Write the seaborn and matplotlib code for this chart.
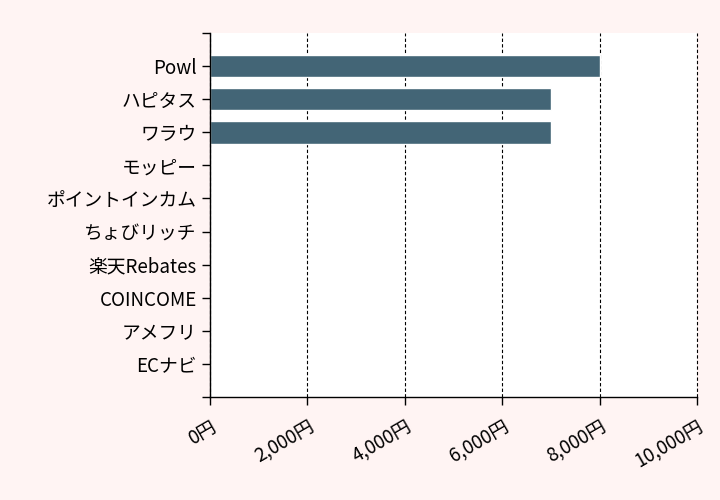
import matplotlib
matplotlib.use("Agg")
import matplotlib.pyplot as plt
import seaborn as sns
import pandas as pd
from matplotlib.ticker import FuncFormatter

sites = ["Powl", "ハピタス", "ワラウ", "モッピー", "ポイントインカム",
         "ちょびリッチ", "楽天Rebates", "COINCOME", "アメフリ", "ECナビ"]
amounts = [8000, 7000, 7000, 0, 0, 0, 0, 0, 0, 0]
x_ticks = [0, 2000, 4000, 6000, 8000, 10000]

sns.set_style("ticks")
plt.rcParams["font.family"] = ["Noto Sans CJK JP", "DejaVu Sans"]

df = pd.DataFrame({"site": sites, "amount": amounts})

fig = plt.figure(figsize=(7.2, 5), dpi=100, facecolor="#fff4f3")
ax = fig.add_axes([210 / 720, 103 / 500, 487 / 720, 364 / 500])
ax.set_facecolor("white")

sns.barplot(data=df, x="amount", y="site", orient="h", color="#436576",
            saturation=1, width=0.68, ax=ax)

ax.set_xlim(0, 10000)
ax.set_ylim(10, -1)
ax.set_xticks(x_ticks)
ax.xaxis.set_major_formatter(FuncFormatter(lambda v, p: f"{int(v):,}円"))
ax.set_yticks(range(-1, 11))
ax.set_yticklabels([""] + sites + [""])
ax.grid(axis="x", color="black", linestyle=(0, (3, 2)), linewidth=0.8)
for gl in ax.get_xgridlines():
    gl.set_clip_on(False)
ax.set_axisbelow(True)
ax.set_xlabel("")
ax.set_ylabel("")
for s in ["top", "right"]:
    ax.spines[s].set_visible(False)
for s in ["left", "bottom"]:
    ax.spines[s].set_color("black")
    ax.spines[s].set_linewidth(1)
ax.tick_params(axis="both", colors="black", labelsize=13.5, length=6, width=1)
ax.tick_params(axis="x", pad=8)
plt.setp(ax.get_xticklabels(), rotation=30, ha="right", rotation_mode="anchor")

fig.savefig("out.png", dpi=100, facecolor=fig.get_facecolor())
